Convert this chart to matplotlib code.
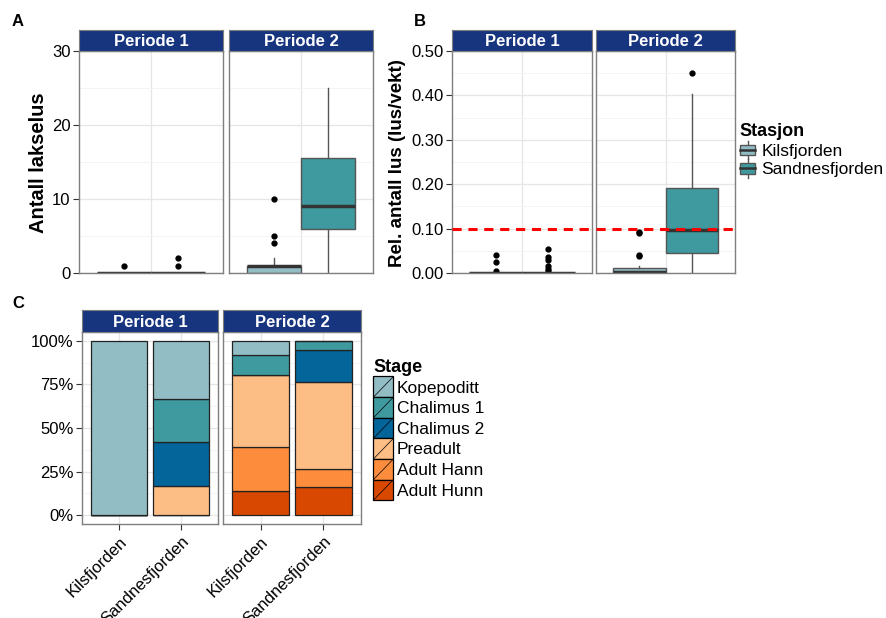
import numpy as np
import matplotlib
matplotlib.use('Agg')
import matplotlib.pyplot as plt
from matplotlib.patches import Rectangle, Patch
from matplotlib.lines import Line2D
from matplotlib.legend_handler import HandlerBase
from matplotlib.ticker import FuncFormatter, MultipleLocator

plt.rcParams['font.family'] = ['Liberation Sans', 'DejaVu Sans']

W, H = 886, 618

periods = ['Periode 1', 'Periode 2']
stations = ['Kilsfjorden', 'Sandnesfjorden']
station_colors = ['#92BDC5', '#3E9A9E']

# A: antall lakselus, box summaries [periode][stasjon]
a_q1 = [[0, 0], [0, 6.0]]
a_med = [[0, 0], [1.0, 9.0]]
a_q3 = [[0, 0], [1.0, 15.5]]
a_lo = [[0, 0], [0, 0]]
a_hi = [[0, 0], [2.0, 25.0]]
a_out = [[[1], [1, 2]], [[4, 5, 10], []]]

# B: relativt antall lus (lus/vekt)
b_q1 = [[0, 0], [0, 0.045]]
b_med = [[0, 0], [0.003, 0.096]]
b_q3 = [[0, 0], [0.012, 0.192]]
b_lo = [[0, 0], [0, 0]]
b_hi = [[0, 0], [0.016, 0.403]]
b_out = [[[0.004, 0.024, 0.040], [0.004, 0.009, 0.015, 0.030, 0.036, 0.053]],
         [[0.038, 0.041, 0.090, 0.093], [0.451]]]
b_limit = 0.10

# C: stadier, andel per stasjon (P1 Kils, P1 Sand, P2 Kils, P2 Sand)
stages = ['Kopepoditt', 'Chalimus 1', 'Chalimus 2', 'Preadult', 'Adult Hann', 'Adult Hunn']
stage_colors = ['#92BDC5', '#3E9A9E', '#03659A', '#FDBE85', '#FD8D3C', '#D94801']
kopepoditt = [1.0, 0.333, 0.084, 0.004]
chalimus1 = [0, 0.25, 0.111, 0.05]
chalimus2 = [0, 0.25, 0, 0.183]
preadult = [0, 0.167, 0.413, 0.499]
adult_hann = [0, 0, 0.254, 0.103]
adult_hunn = [0, 0, 0.138, 0.161]
stage_vals = [kopepoditt, chalimus1, chalimus2, preadult, adult_hann, adult_hunn]

STRIP = '#17347F'
BORDER = '#7F7F7F'
GRID = '#E6E6E6'
GRID_MIN = '#F3F3F3'
FS = 12
LFS = 12.5

fig = plt.figure(figsize=(W / 100, H / 100), dpi=100)


def px_axes(x0, y0, x1, y1):
    return fig.add_axes([x0 / W, 1 - y1 / H, (x1 - x0) / W, (y1 - y0) / H])


def strip(x0, y0, x1, y1, label):
    s = px_axes(x0, y0, x1, y1)
    s.set_facecolor(STRIP)
    s.set_xticks([])
    s.set_yticks([])
    for sp in s.spines.values():
        sp.set_color(BORDER)
    s.text(0.5, 0.45, label, color='white', fontsize=FS, fontweight='bold',
           ha='center', va='center', transform=s.transAxes)


def style(ax, left):
    for sp in ax.spines.values():
        sp.set_color(BORDER)
        sp.set_linewidth(1)
    ax.set_axisbelow(True)
    ax.grid(which='major', color=GRID, lw=0.9)
    ax.grid(which='minor', color=GRID_MIN, lw=0.6)
    ax.tick_params(axis='both', which='minor', length=0)
    ax.tick_params(axis='y', which='major', length=4, color='#333333',
                   labelsize=FS, pad=2, labelleft=left)
    if not left:
        ax.tick_params(axis='y', length=0)


def box_panel(ax, q1, med, q3, lo, hi, out, p):
    stats = []
    for s in range(2):
        stats.append(dict(q1=q1[p][s], med=med[p][s], q3=q3[p][s],
                          whislo=lo[p][s], whishi=hi[p][s], fliers=out[p][s]))
    res = ax.bxp(stats, positions=[0.775, 1.225], widths=0.45, patch_artist=True,
                 showcaps=False, manage_ticks=False,
                 boxprops=dict(edgecolor='#555555', lw=1),
                 whiskerprops=dict(color='#555555', lw=1),
                 medianprops=dict(color='#333333', lw=2.5, solid_capstyle='butt'),
                 flierprops=dict(marker='o', markerfacecolor='black',
                                 markeredgecolor='black', markersize=3.5))
    for b, c in zip(res['boxes'], station_colors):
        b.set_facecolor(c)
    ax.set_xlim(0.4, 1.6)
    ax.set_xticks([1])
    ax.tick_params(axis='x', length=0, labelbottom=False)


# ---- A ----
a_panels = [(79, 223), (229, 373)]
for p, (x0, x1) in enumerate(a_panels):
    ax = px_axes(x0, 51, x1, 273)
    box_panel(ax, a_q1, a_med, a_q3, a_lo, a_hi, a_out, p)
    ax.set_ylim(0, 30)
    ax.yaxis.set_major_locator(MultipleLocator(10))
    ax.yaxis.set_minor_locator(MultipleLocator(5))
    style(ax, p == 0)
    strip(x0, 30, x1, 51, periods[p])
fig.text(38 / W, 1 - 163 / H, 'Antall lakselus', rotation=90, fontsize=14.5,
         fontweight='bold', ha='center', va='center')
fig.text(18 / W, 1 - 22 / H, 'A', fontsize=FS, fontweight='bold', ha='center', va='center')

# ---- B ----
b_panels = [(452, 592), (596, 735)]
for p, (x0, x1) in enumerate(b_panels):
    ax = px_axes(x0, 51, x1, 273)
    box_panel(ax, b_q1, b_med, b_q3, b_lo, b_hi, b_out, p)
    ax.axhline(b_limit, color='red', lw=2.2, ls=(0, (3, 2.2)), zorder=5)
    ax.set_ylim(0, 0.5)
    ax.yaxis.set_major_locator(MultipleLocator(0.1))
    ax.yaxis.set_minor_locator(MultipleLocator(0.05))
    ax.yaxis.set_major_formatter(FuncFormatter(lambda v, _: f'{v:.2f}'))
    style(ax, p == 0)
    strip(x0, 30, x1, 51, periods[p])
fig.text(397 / W, 1 - 163 / H, 'Rel. antall lus (lus/vekt)', rotation=90, fontsize=13.5,
         fontweight='bold', ha='center', va='center')
fig.text(420 / W, 1 - 22 / H, 'B', fontsize=FS, fontweight='bold', ha='center', va='center')


class BoxKey(HandlerBase):
    def create_artists(self, legend, orig, xd, yd, w, h, fontsize, trans):
        x0, y0 = -xd, -yd
        arts = [Line2D([x0 + w / 2] * 2, [y0 - 1, y0 + h + 1], color='#555555', lw=1),
                Rectangle((x0 + 0.05 * w, y0 + 0.15 * h), 0.9 * w, 0.7 * h,
                          facecolor=orig.get_facecolor(), edgecolor='#555555', lw=1),
                Line2D([x0 + 0.05 * w, x0 + 0.95 * w], [y0 + h / 2] * 2, color='#333333', lw=1.8)]
        for a in arts:
            a.set_transform(trans)
        return arts


class StageKey(HandlerBase):
    def create_artists(self, legend, orig, xd, yd, w, h, fontsize, trans):
        x0, y0 = -xd, -yd
        arts = [Rectangle((x0, y0), w, h, facecolor=orig.get_facecolor(),
                          edgecolor='black', lw=0.9),
                Line2D([x0, x0 + w], [y0, y0 + h], color='black', lw=0.5)]
        for a in arts:
            a.set_transform(trans)
        return arts


st_handles = [Patch(facecolor=c) for c in station_colors]
leg = fig.legend(st_handles, stations, loc='upper left', bbox_to_anchor=(736 / W, 1 - 120 / H),
                 frameon=False, title='Stasjon', fontsize=LFS, handler_map={Patch: BoxKey()},
                 handlelength=0.95, handleheight=1.0, handletextpad=0.3, labelspacing=0.1,
                 borderaxespad=0, borderpad=0.2)
leg.get_title().set_fontweight('bold')
leg.get_title().set_fontsize(13)
leg._legend_box.align = 'left'

# ---- C ----
c_panels = [(82, 218), (223, 361)]
for p, (x0, x1) in enumerate(c_panels):
    ax = px_axes(x0, 332, x1, 524)
    xs = np.array([1, 2])
    bottom = np.zeros(2)
    for vals, c in list(zip(stage_vals, stage_colors))[::-1]:
        v = np.array(vals[2 * p:2 * p + 2])
        ax.bar(xs, v, width=0.9, bottom=bottom, color=c, edgecolor='#222222', lw=0.9)
        bottom += v
    ax.set_xlim(0.4, 2.6)
    ax.set_ylim(-0.05, 1.05)
    ax.yaxis.set_major_locator(MultipleLocator(0.25))
    ax.yaxis.set_minor_locator(MultipleLocator(0.125))
    ax.yaxis.set_major_formatter(FuncFormatter(lambda v, _: f'{v * 100:.0f}%'))
    style(ax, p == 0)
    ax.set_xticks(xs)
    ax.set_xticklabels(stations, rotation=45, ha='right', rotation_mode='anchor', fontsize=FS)
    ax.tick_params(axis='x', length=4, color='#333333', pad=3)
    strip(x0, 310, x1, 332, periods[p])
fig.text(18 / W, 1 - 303 / H, 'C', fontsize=FS, fontweight='bold', ha='center', va='center')

sg_handles = [Patch(facecolor=c) for c in stage_colors]
leg2 = fig.legend(sg_handles, stages, loc='upper left', bbox_to_anchor=(370 / W, 1 - 356 / H),
                  frameon=False, title='Stage', fontsize=LFS, handler_map={Patch: StageKey()},
                  handlelength=1.15, handleheight=1.45, handletextpad=0.2, labelspacing=0.0,
                  borderaxespad=0, borderpad=0.2)
leg2.get_title().set_fontweight('bold')
leg2.get_title().set_fontsize(13)
leg2._legend_box.align = 'left'

fig.savefig('out.png', dpi=100)
